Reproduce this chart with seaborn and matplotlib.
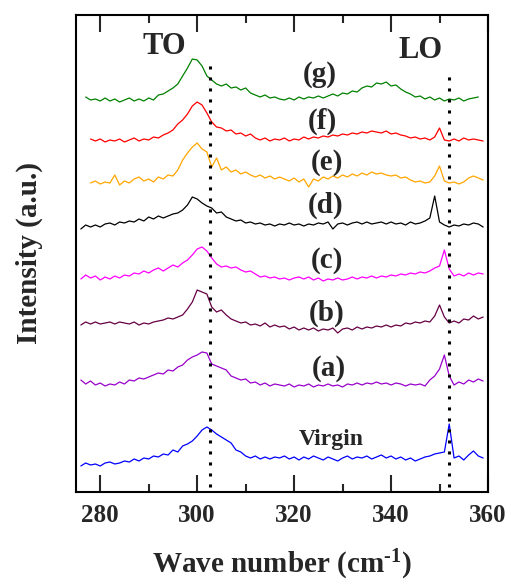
import numpy as np
import pandas as pd
import seaborn as sns
import matplotlib.pyplot as plt

# Raman spectra, stacked (a.u.)
wavenumber = np.arange(276, 360)

samples = ["Virgin", "(a)", "(b)", "(c)", "(d)", "(e)", "(f)", "(g)"]
colors = ["#0000ff", "#9900cc", "#660044", "#ff00ff", "#000000", "#ffa500", "#ff0000", "#008000"]
first_wn = [276, 276, 276, 276, 276, 278, 278, 277]

virgin = [26, 29, 27, 28, 26, 29, 30, 28, 29, 31, 30, 33, 31, 34, 33,
          36, 35, 38, 37, 42, 40, 46, 48, 51, 56,
          62, 65, 62, 58, 55, 52, 49, 42, 40, 36,
          34, 36, 33, 35, 33, 35, 34, 36, 33, 35,
          32, 35, 33, 36, 34, 32, 35, 33, 31, 34,
          36, 33, 35, 34, 36, 33, 35, 37, 34, 36,
          33, 35, 32, 34, 31, 33, 35, 36, 38, 39,
          40, 68, 34, 36, 32, 37, 41, 36, 34]
spec_a = [112, 108, 111, 107, 109, 106, 108, 107, 110, 108, 112, 111, 114, 113, 115,
          117, 119, 118, 122, 121, 125, 127, 132, 135, 137,
          140, 139, 128, 126, 124, 122, 116, 114, 112, 113,
          109, 110, 107, 109, 106, 108, 107, 106, 108, 105,
          107, 106, 108, 105, 107, 106, 108, 106, 107, 105,
          108, 107, 109, 107, 109, 108, 110, 108, 109, 107,
          109, 108, 106, 108, 107, 108, 106, 112, 116, 123,
          137, 116, 107, 110, 108, 112, 110, 113, 111]
spec_b = [167, 170, 168, 170, 168, 169, 170, 168, 170, 169, 168, 170, 167, 169, 168,
          170, 171, 172, 174, 173, 175, 177, 183, 190, 202,
          200, 198, 185, 180, 182, 177, 173, 171, 169, 170,
          167, 168, 166, 169, 165, 167, 165, 166, 163, 165,
          162, 164, 162, 164, 161, 163, 162, 164, 159, 163,
          164, 162, 165, 163, 165, 164, 166, 165, 167, 165,
          167, 166, 169, 168, 170, 169, 171, 170, 176, 187,
          175, 169, 171, 169, 173, 172, 176, 173, 175]
spec_c = [213, 217, 214, 216, 212, 215, 213, 216, 214, 217, 216, 219, 218, 221, 219,
          222, 224, 221, 224, 227, 225, 229, 232, 237, 243,
          245, 241, 234, 228, 225, 226, 224, 225, 222, 220,
          221, 218, 215, 216, 214, 215, 213, 214, 212, 214,
          215, 213, 215, 212, 214, 211, 213, 212, 214, 212,
          213, 215, 213, 215, 214, 216, 214, 216, 215, 217,
          216, 218, 217, 219, 218, 220, 219, 221, 224, 226,
          242, 223, 216, 218, 216, 219, 217, 219, 218]
spec_d = [263, 267, 265, 267, 265, 268, 269, 267, 270, 269, 271, 270, 273, 271, 275,
          273, 276, 274, 276, 278, 279, 282, 287, 295, 293,
          289, 286, 284, 279, 280, 275, 273, 271, 272, 269,
          270, 268, 269, 267, 268, 266, 268, 267, 269, 267,
          268, 266, 268, 267, 269, 268, 270, 263, 268, 269,
          267, 269, 270, 268, 270, 268, 269, 270, 268, 270,
          268, 269, 267, 270, 268, 269, 271, 274, 296, 270,
          267, 265, 267, 266, 268, 267, 269, 268, 265]
spec_e = [309, 311, 308, 310, 309, 317, 307, 311, 309, 313, 315, 311, 313,
          310, 315, 313, 317, 316, 322, 332, 339, 345, 349,
          343, 340, 325, 334, 322, 325, 320, 322, 318, 320,
          317, 315, 317, 314, 316, 313, 315, 313, 311, 314,
          310, 313, 305, 313, 311, 315, 313, 316, 314, 317,
          315, 318, 316, 319, 317, 320, 318, 319, 317, 316,
          317, 314, 315, 312, 310, 311, 309, 310, 316, 326,
          311, 309, 310, 308, 310, 314, 316, 314, 312]
spec_f = [353, 351, 353, 350, 352, 351, 353, 350, 352, 354, 351, 353, 352,
          355, 354, 357, 359, 362, 368, 372, 378, 386, 390,
          387, 379, 370, 365, 364, 361, 362, 358, 359, 356,
          358, 354, 352, 354, 351, 353, 352, 354, 351, 353,
          352, 355, 353, 355, 354, 356, 355, 357, 356, 358,
          357, 359, 358, 360, 359, 361, 360, 359, 361, 358,
          359, 357, 356, 354, 355, 353, 354, 352, 355, 364,
          352, 351, 353, 351, 354, 352, 353, 352, 351]
spec_g = [395, 392, 393, 391, 394, 391, 393, 390, 392, 394, 391, 393, 391, 394,
          392, 397, 398, 401, 404, 408, 416, 424, 433, 432,
          426, 416, 412, 408, 406, 408, 404, 405, 402, 404,
          399, 397, 395, 397, 394, 395, 393, 392, 394, 392,
          395, 393, 395, 394, 396, 394, 396, 398, 396, 399,
          398, 401, 400, 404, 406, 405, 409, 408, 410, 406,
          407, 403, 400, 398, 395, 396, 393, 395, 392, 394,
          391, 393, 392, 394, 391, 393, 394, 395]
spectra = [virgin, spec_a, spec_b, spec_c, spec_d, spec_e, spec_f, spec_g]

to_pos = 302.6
lo_pos = 352.0

rows = []
for name, start, vals in zip(samples, first_wn, spectra):
    wn = wavenumber[wavenumber >= start][:len(vals)]
    rows.append(pd.DataFrame({"wavenumber": wn, "intensity": vals, "sample": name}))
df = pd.concat(rows, ignore_index=True)

sns.set_style("ticks")
plt.rcParams['font.family'] = ['Liberation Serif', 'DejaVu Serif']
plt.rcParams['font.weight'] = 'bold'
plt.rcParams['axes.labelweight'] = 'bold'
plt.rcParams['mathtext.fontset'] = 'custom'
plt.rcParams['mathtext.rm'] = 'Liberation Serif:bold'
plt.rcParams['mathtext.bf'] = 'Liberation Serif:bold'
plt.rcParams['mathtext.default'] = 'bf'

fig, ax = plt.subplots(figsize=(5.11, 5.87), dpi=100)
fig.subplots_adjust(left=76/511, right=488/511, top=1-15/587, bottom=1-492/587)

sns.lineplot(data=df, x="wavenumber", y="intensity", hue="sample",
             palette=dict(zip(samples, colors)), legend=False,
             estimator=None, sort=False, lw=0.9, ax=ax)

# dotted guides at TO and LO positions
ax.axvline(to_pos, ymin=0.01, ymax=0.905, color="black", lw=2.2, ls=(0, (1, 2.6)))
ax.axvline(lo_pos, ymin=0.01, ymax=0.88, color="black", lw=2.2, ls=(0, (1, 2.6)))

ax.text(293.2, 446, "TO", fontsize=22, ha="center", va="center")
ax.text(346.1, 441, "LO", fontsize=22, ha="center", va="center")

label_pos = {"(g)": (325.3, 417), "(f)": (325.8, 371), "(e)": (326.8, 330),
             "(d)": (326.4, 287), "(c)": (326.8, 232), "(b)": (326.8, 179),
             "(a)": (327.2, 123), "Virgin": (327.6, 53)}
for name, (lx, ly) in label_pos.items():
    ax.text(lx, ly, name, fontsize=17 if name == "Virgin" else 21,
            ha="center", va="center")

ax.set_xlim(275, 360)
ax.set_ylim(0, 477)
ax.set_xticks([280, 300, 320, 340, 360])
ax.set_xticks([290, 310, 330, 350], minor=True)
ax.set_yticks([])
ax.tick_params(axis="x", which="both", direction="in", top=True, bottom=True,
               width=1.5, labelsize=18, pad=9)
ax.tick_params(axis="x", which="major", length=12)
ax.tick_params(axis="x", which="minor", length=6)
for s in ax.spines.values():
    s.set_linewidth(1.5)
    s.set_color("black")

ax.set_xlabel("Wave number (cm$^{\u2010 1}$)", fontsize=21, labelpad=15)
ax.set_ylabel("Intensity (a.u.)", fontsize=21, labelpad=24)

plt.savefig("out.png", dpi=100)
